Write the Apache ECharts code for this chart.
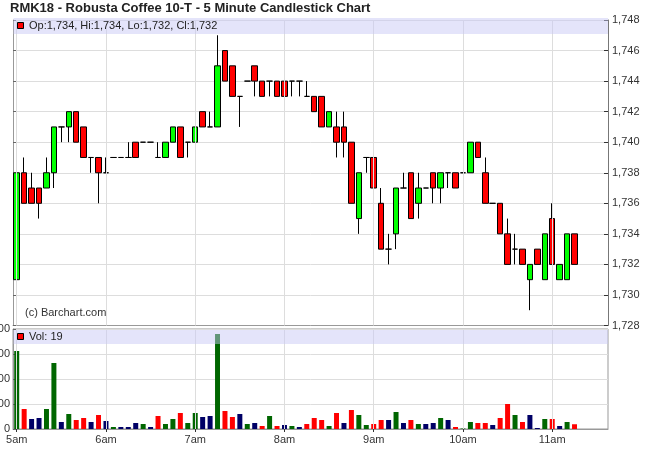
<!DOCTYPE html>
<html><head><meta charset="utf-8">
<script src="https://cdn.jsdelivr.net/npm/echarts@6/dist/echarts.min.js"></script>
<style>html,body{margin:0;padding:0;background:#fff}#c{width:650px;height:470px}</style>
</head><body><div id="c"></div>
<script>
// ---- data ----
const startHour = 5;
const slotCount = 80;            // 5:00 .. 11:35 in 5-minute slots
const hourLabels = ['5am', '6am', '7am', '8am', '9am', '10am', '11am'];
const opens  = [1731,1738,1737,1737,1737,1738,1741,1741,1742,1741,1739,1739,1738,1739,1739,1739,1740,1740,1740,1739,
                1739,1740,1741,1740,1740,1742,1741,1741,1746,1745,1743,1744,1745,1744,1744,1744,1744,1744,1744,1743,
                1743,1743,1741,1741,1741,1740,1735,1739,1739,1736,1733,1734,1737,1738,1736,1737,1738,1737,1738,1738,
                1738,1738,1740,1738,1736,1736,1734,1733,1733,1731,1733,1731,1735,1731,1731,1734];
const highs  = [1739,1739,1738,1737,1739,1741,1741,1742,1742,1741,1739,1739,1739,1739,1739,1740,1740,1740,1740,1740,
                1740,1741,1741,1740,1741,1742,1742,1747,1746,1745,1743,1744,1745,1744,1744,1744,1744,1744,1744,1744,
                1743,1743,1742,1742,1742,1740,1738,1739,1739,1737,1734,1737,1738,1738,1738,1737,1738,1738,1738,1738,
                1738,1740,1740,1739,1736,1736,1735,1734,1733,1732,1733,1734,1736,1732,1734,1734];
const lows   = [1731,1736,1736,1735,1737,1737,1740,1740,1740,1739,1738,1736,1738,1739,1739,1739,1739,1740,1740,1739,
                1739,1740,1739,1739,1740,1741,1741,1741,1744,1743,1741,1744,1743,1743,1743,1743,1743,1743,1743,1743,
                1742,1741,1741,1739,1739,1736,1734,1738,1737,1733,1732,1733,1737,1735,1735,1737,1736,1736,1737,1737,
                1738,1738,1739,1736,1736,1734,1732,1732,1732,1729,1732,1731,1732,1731,1731,1732];
const closes = [1738,1736,1736,1736,1738,1741,1741,1742,1740,1739,1739,1738,1738,1739,1739,1739,1739,1740,1740,1739,
                1740,1741,1739,1740,1741,1741,1741,1745,1744,1743,1743,1744,1744,1743,1744,1743,1743,1744,1744,1743,
                1742,1741,1742,1740,1740,1736,1738,1739,1737,1733,1733,1737,1737,1735,1737,1737,1737,1738,1738,1737,
                1738,1740,1739,1736,1736,1734,1732,1733,1732,1732,1732,1734,1732,1732,1734,1732];
const volumes = [312,80,40,44,80,264,28,60,36,44,28,56,32,8,8,8,24,20,8,52,
                 20,40,64,24,64,48,52,380,72,48,60,20,24,12,52,12,16,12,8,20,
                 44,36,12,64,24,76,56,16,20,36,36,68,24,36,20,20,24,44,36,8,
                 2,28,24,24,16,44,100,56,28,56,4,40,40,12,28,19];

// ---- build ----
const fmt = v => v.toLocaleString('en-US');
const categories = [];
for (let i = 0; i < slotCount; i++) {
  const h = startHour + Math.floor(i / 12), m = (i % 12) * 5;
  categories.push(h + ':' + String(m).padStart(2, '0'));
}
const last = closes.length - 1;
const candleData = opens.map((o, i) => [o, closes[i], lows[i], highs[i]]);
const volData = volumes.map((v, i) => {
  const prev = i === 0 ? opens[0] : closes[i - 1];
  const c = closes[i] > prev ? '#006600' : (closes[i] < prev ? '#ff0000' : '#000066');
  return { value: v, itemStyle: { color: c } };
});
const hourLines = hourLabels.map((_, k) => ({ xAxis: k * 12 }));
const gridLineMark = {
  silent: true, symbol: ['none', 'none'], animation: false,
  label: { show: false },
  lineStyle: { color: '#dddddd', width: 1, type: 'solid' },
  data: hourLines
};
const FONT = '"Liberation Sans", Arial, sans-serif';
const hourInterval = (idx) => idx % 12 === 0;

const chart = echarts.init(document.getElementById('c'), null, { renderer: 'canvas' });
chart.setOption({
  animation: false,
  backgroundColor: '#fff',
  grid: [
    { left: 13, right: 42, top: 20, height: 305.5, containLabel: false, outerBoundsMode: 'none' },
    { left: 13, right: 42, top: 329, height: 100, show: true, borderColor: '#999', borderWidth: 1,
      containLabel: false, outerBoundsMode: 'none' }
  ],
  xAxis: [
    { type: 'category', gridIndex: 0, data: categories, boundaryGap: true,
      axisLine: { show: true, lineStyle: { color: '#999' } }, axisTick: { show: false },
      axisLabel: { show: false }, splitLine: { show: false } },
    { type: 'category', gridIndex: 1, data: categories, boundaryGap: true,
      axisLine: { show: true, lineStyle: { color: '#999' } },
      axisTick: { show: true, alignWithLabel: true, interval: hourInterval, length: 3, lineStyle: { color: '#333' } },
      axisLabel: { show: true, interval: hourInterval, margin: 5, color: '#333', fontSize: 11, fontFamily: FONT,
        formatter: (v, idx) => hourLabels[Math.floor(idx / 12)] },
      splitLine: { show: false } }
  ],
  yAxis: [
    { type: 'value', gridIndex: 0, position: 'right', min: 1728, max: 1748, interval: 2,
      axisLine: { show: true, lineStyle: { color: '#777' } },
      axisTick: { show: true, inside: true, length: 4, lineStyle: { color: '#333' } },
      axisLabel: { margin: 4, color: '#333', fontSize: 11, fontFamily: FONT, formatter: v => fmt(v) },
      splitLine: { show: true, lineStyle: { color: '#dddddd' } } },
    { type: 'value', gridIndex: 0, position: 'left', min: 1728, max: 1748, interval: 2,
      axisLine: { show: true, lineStyle: { color: '#999' } },
      axisTick: { show: true, inside: true, length: 3, lineStyle: { color: '#666' } },
      axisLabel: { show: false }, splitLine: { show: false } },
    { type: 'value', gridIndex: 1, position: 'left', min: 0, max: 400, interval: 100,
      axisLine: { show: true, lineStyle: { color: '#999' } },
      axisTick: { show: true, inside: true, length: 3, lineStyle: { color: '#666' } },
      axisLabel: { margin: 3, color: '#333', fontSize: 11, fontFamily: FONT },
      splitLine: { show: true, lineStyle: { color: '#dddddd' } } }
  ],
  series: [
    { type: 'line', xAxisIndex: 0, yAxisIndex: 0, data: [], z: 1, markLine: gridLineMark },
    { type: 'line', xAxisIndex: 1, yAxisIndex: 2, data: [], z: 1, markLine: gridLineMark },
    { type: 'candlestick', xAxisIndex: 0, yAxisIndex: 0, data: candleData, barWidth: 6, z: 3,
      itemStyle: { color: '#00ff00', color0: '#ff0000', borderColor: '#000', borderColor0: '#000',
        borderColorDoji: '#000', borderWidth: 1 },
      markLine: { silent: true, symbol: ['none', 'none'], animation: false,
        lineStyle: { opacity: 0 },
        label: { show: true, position: 'end', distance: 3, formatter: fmt(closes[last]),
          backgroundColor: '#000', color: '#eef6ff', fontSize: 11, fontFamily: FONT, padding: [2, 2, 1, 2] },
        data: [{ yAxis: closes[last] }] } },
    { type: 'bar', xAxisIndex: 1, yAxisIndex: 2, data: volData, barWidth: 5, z: 3 }
  ],
  graphic: [
    { type: 'text', left: 10, top: 2, z: 100,
      style: { text: 'RMK18 - Robusta Coffee 10-T - 5 Minute Candlestick Chart', font: 'bold 13px ' + FONT, fill: '#222' } },
    { type: 'rect', z: 100, shape: { x: 13.5, y: 18, width: 594.5, height: 16 },
      style: { fill: 'rgba(200,200,245,0.49)' } },
    { type: 'rect', z: 101, shape: { x: 17.5, y: 22.5, width: 6, height: 6 },
      style: { fill: '#ff0000', stroke: '#000', lineWidth: 1 } },
    { type: 'text', z: 101, x: 29, y: 26,
      style: { text: 'Op:' + fmt(opens[last]) + ', Hi:' + fmt(highs[last]) + ', Lo:' + fmt(lows[last]) + ', Cl:' + fmt(closes[last]),
        font: '11px ' + FONT, fill: '#222', verticalAlign: 'middle' } },
    { type: 'rect', z: 100, shape: { x: 13.5, y: 330, width: 594.5, height: 14 },
      style: { fill: 'rgba(200,200,245,0.49)' } },
    { type: 'rect', z: 101, shape: { x: 17.5, y: 333.5, width: 6, height: 6 },
      style: { fill: '#ff0000', stroke: '#000', lineWidth: 1 } },
    { type: 'text', z: 101, x: 29, y: 337,
      style: { text: 'Vol: ' + volumes[last], font: '11px ' + FONT, fill: '#222', verticalAlign: 'middle' } },
    { type: 'text', z: 101, x: 25, y: 313,
      style: { text: '(c) Barchart.com', font: '11px ' + FONT, fill: '#333', verticalAlign: 'middle' } }
  ]
});
</script></body></html>
